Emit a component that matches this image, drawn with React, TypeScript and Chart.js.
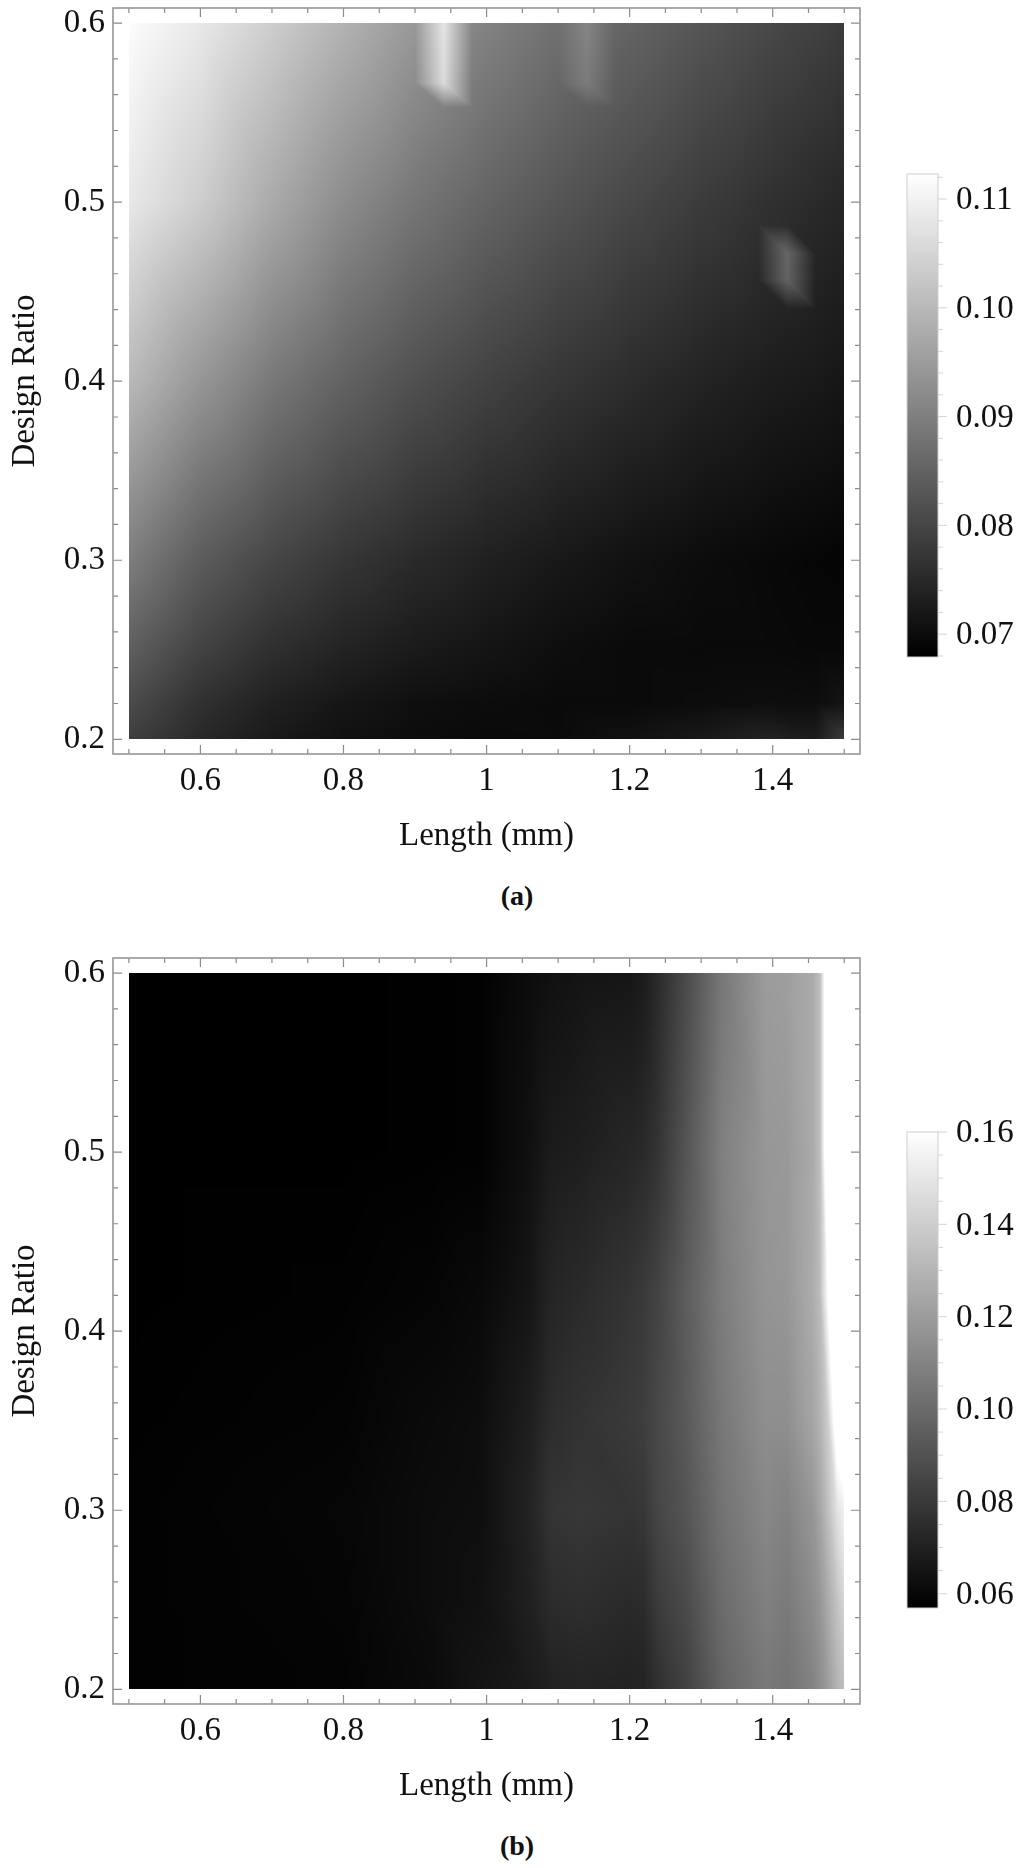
import React, { useEffect, useRef } from "react";
import { Chart, registerables } from "chart.js";

Chart.register(...registerables);

// ---------- axis ticks ----------
const xTicks = [0.6, 0.8, 1, 1.2, 1.4];
const yTicks = [0.2, 0.3, 0.4, 0.5, 0.6];
const xMinor = [0.5, 0.55, 0.65, 0.7, 0.75, 0.85, 0.9, 0.95, 1.05, 1.1, 1.15, 1.25, 1.3, 1.35, 1.45, 1.5];
const yMinor = [0.22, 0.24, 0.26, 0.28, 0.32, 0.34, 0.36, 0.38, 0.42, 0.44, 0.46, 0.48, 0.52, 0.54, 0.56, 0.58];

// ---------- panel (a) ----------
const aX = [0.5, 0.6, 0.7, 0.8, 0.9, 1.0, 1.1, 1.2, 1.3, 1.4, 1.46, 1.5];
const aY = [0.6, 0.5, 0.4, 0.3, 0.25, 0.22, 0.2];
const aRow060 = [0.1119, 0.1083, 0.1036, 0.0989, 0.0943, 0.0905, 0.0874, 0.0853, 0.0827, 0.0804, 0.0792, 0.0783];
const aRow050 = [0.1083, 0.1036, 0.0975, 0.0923, 0.0884, 0.0853, 0.0827, 0.0804, 0.0783, 0.0763, 0.0752, 0.0745];
const aRow040 = [0.1001, 0.094, 0.0888, 0.085, 0.0818, 0.0794, 0.0773, 0.0756, 0.074, 0.0728, 0.0723, 0.0717];
const aRow030 = [0.0897, 0.0839, 0.0801, 0.0773, 0.0752, 0.0735, 0.0721, 0.0709, 0.07, 0.0693, 0.0689, 0.0686];
const aRow025 = [0.0844, 0.0794, 0.0761, 0.074, 0.0724, 0.0714, 0.0703, 0.0696, 0.0695, 0.0695, 0.0693, 0.0693];
const aRow022 = [0.081, 0.0763, 0.0735, 0.0717, 0.0705, 0.07, 0.0696, 0.0696, 0.07, 0.0703, 0.0702, 0.0714];
const aRow020 = [0.0787, 0.0749, 0.0723, 0.0707, 0.07, 0.0696, 0.0697, 0.0708, 0.0722, 0.074, 0.0728, 0.0783];
const aGrid = [aRow060, aRow050, aRow040, aRow030, aRow025, aRow022, aRow020];

// local raised cells in panel (a), added on top of the grid above
const bump1X = [0.9, 0.94, 0.98];
const bump1Y = [0.6, 0.5665, 0.553];
const bump1Mid = [0.0148, 0.0148, 0];
const bump2X = [1.1, 1.14, 1.18];
const bump2Y = [0.6, 0.5665, 0.553];
const bump2Mid = [0.0045, 0.0045, 0];
const bump3X = [1.38, 1.42, 1.46];
const bump3Y = [0.4875, 0.4715, 0.4565, 0.4405];
const bump3Mid = [0, 0.0105, 0.0105, 0];

// ---------- panel (b) ----------
const bX = [0.5, 0.8, 0.92, 0.99, 1.06, 1.09, 1.13, 1.2, 1.22, 1.24, 1.28, 1.33, 1.39, 1.42, 1.456, 1.466, 1.477, 1.49, 1.5];
const bY = [0.6, 0.5, 0.42, 0.35, 0.3, 0.25, 0.2];
const bRow060 = [0.0569, 0.0569, 0.0573, 0.0577, 0.0618, 0.0634, 0.065, 0.0658, 0.0682, 0.0739, 0.0873, 0.1055, 0.1197, 0.1209, 0.1258, 0.1339, 0.1784, 0.1784, 0.1784];
const bRow050 = [0.0569, 0.0569, 0.0573, 0.0577, 0.0634, 0.0678, 0.0691, 0.0723, 0.0739, 0.078, 0.0913, 0.1087, 0.1177, 0.1185, 0.1258, 0.1339, 0.1784, 0.1784, 0.1784];
const bRow042 = [0.0569, 0.0577, 0.0589, 0.0605, 0.0655, 0.0718, 0.0739, 0.078, 0.0804, 0.0844, 0.0946, 0.1075, 0.1168, 0.1177, 0.1266, 0.133, 0.1602, 0.1784, 0.1784];
const bRow035 = [0.0573, 0.0585, 0.061, 0.0622, 0.0691, 0.0751, 0.0772, 0.0804, 0.082, 0.0861, 0.0934, 0.1055, 0.1144, 0.1144, 0.1237, 0.129, 0.1399, 0.1703, 0.1784];
const bRow030 = [0.0577, 0.0593, 0.0618, 0.0626, 0.0711, 0.078, 0.0792, 0.078, 0.0792, 0.0853, 0.0913, 0.1035, 0.1116, 0.1096, 0.1177, 0.1237, 0.1339, 0.148, 0.1541];
const bRow025 = [0.0577, 0.0589, 0.0618, 0.0634, 0.0699, 0.0747, 0.0755, 0.0739, 0.0747, 0.0812, 0.0873, 0.1006, 0.1087, 0.1063, 0.1136, 0.1177, 0.1258, 0.1359, 0.144];
const bRow020 = [0.0577, 0.0585, 0.061, 0.065, 0.0678, 0.0699, 0.0711, 0.0703, 0.0711, 0.0763, 0.0832, 0.0974, 0.1055, 0.1035, 0.1096, 0.1136, 0.1197, 0.129, 0.1339];
const bGrid = [bRow060, bRow050, bRow042, bRow035, bRow030, bRow025, bRow020];

// ---------- colour bars ----------
const aBarMajor = [0.07, 0.08, 0.09, 0.1, 0.11];
const aBarMinor = [0.068, 0.072, 0.074, 0.076, 0.078, 0.082, 0.084, 0.086, 0.088, 0.092, 0.094, 0.096, 0.098, 0.102, 0.104, 0.106, 0.108, 0.112];
const bBarMajor = [0.06, 0.08, 0.1, 0.12, 0.14, 0.16];
const bBarMinor = [0.065, 0.07, 0.075, 0.085, 0.09, 0.095, 0.105, 0.11, 0.115, 0.125, 0.13, 0.135, 0.145, 0.15, 0.155];
const aRange = [0.0679, 0.1123];
const bRange = [0.0569, 0.16];

const SERIF = "'Liberation Serif', 'Times New Roman', serif";
const AXIS_FONT = { family: SERIF, size: 33 };

function locate(arr: number[], v: number) {
  const desc = arr[0] > arr[arr.length - 1];
  for (let i = 0; i < arr.length - 1; i++) {
    const a = arr[i], b = arr[i + 1];
    if (desc ? v >= b : v <= b) return { i, t: Math.max(0, Math.min(1, (v - a) / (b - a))) };
  }
  return { i: arr.length - 2, t: 1 };
}

// triangulated cells, diagonal from top-left to bottom-right
function sample(xs: number[], ys: number[], z: number[][], x: number, y: number) {
  const { i, t: u } = locate(xs, x);
  const { i: j, t: v } = locate(ys, y);
  const tl = z[j][i], tr = z[j][i + 1], bl = z[j + 1][i], br = z[j + 1][i + 1];
  return u >= v ? tl + u * (tr - tl) + v * (br - tr) : tl + v * (bl - tl) + u * (br - bl);
}

type Patch = { xs: number[]; ys: number[]; mid: number[] };
const aPatches: Patch[] = [
  { xs: bump1X, ys: bump1Y, mid: bump1Mid },
  { xs: bump2X, ys: bump2Y, mid: bump2Mid },
  { xs: bump3X, ys: bump3Y, mid: bump3Mid },
];

function patchValue(p: Patch, x: number, y: number) {
  if (x < p.xs[0] || x > p.xs[2] || y > p.ys[0] || y < p.ys[p.ys.length - 1]) return 0;
  const z = p.mid.map((m) => [0, m, 0]);
  return sample(p.xs, p.ys, z, x, y);
}

function grayOf(v: number, range: number[]) {
  if (v > range[1]) return 255;
  return Math.max(0, Math.min(255, Math.round(((v - range[0]) / (range[1] - range[0])) * 255)));
}

function setGray(d: Uint8ClampedArray, k: number, g: number) {
  d[k] = g; d[k + 1] = g; d[k + 2] = g; d[k + 3] = 255;
}

function tickLines(ctx: any, color: string, width: number, lines: number[][]) {
  ctx.save();
  ctx.strokeStyle = color;
  ctx.lineWidth = width;
  ctx.beginPath();
  lines.forEach(([x1, y1, x2, y2]) => {
    ctx.moveTo(x1, y1);
    ctx.lineTo(x2, y2);
  });
  ctx.stroke();
  ctx.restore();
}

function fmtX(v: number) {
  return v === 1 ? "1" : v.toFixed(1);
}

function makeHeatChart(canvas: HTMLCanvasElement, xs: number[], ys: number[], grid: number[][], range: number[], patches: Patch[]) {
  const points: any[] = [];
  ys.forEach((y, j) => xs.forEach((x, i) => points.push({ x, y, v: grid[j][i] })));
  const heatPlugin = {
    id: "heat",
    beforeDatasetsDraw(chart: any) {
      const sx = chart.scales.x, sy = chart.scales.y, ctx = chart.ctx;
      const left = Math.round(sx.getPixelForValue(xs[0]));
      const right = Math.round(sx.getPixelForValue(xs[xs.length - 1]));
      const top = Math.round(sy.getPixelForValue(ys[0]));
      const bottom = Math.round(sy.getPixelForValue(ys[ys.length - 1]));
      const w = right - left, h = bottom - top;
      const off = document.createElement("canvas");
      off.width = w; off.height = h;
      const octx = off.getContext("2d")!;
      const img = octx.createImageData(w, h);
      for (let r = 0; r < h; r++) {
        const y = sy.getValueForPixel(top + r + 0.5);
        for (let c = 0; c < w; c++) {
          const x = sx.getValueForPixel(left + c + 0.5);
          let v = sample(xs, ys, grid, x, y);
          for (const p of patches) v += patchValue(p, x, y);
          setGray(img.data, (r * w + c) * 4, grayOf(v, range));
        }
      }
      octx.putImageData(img, 0, 0);
      ctx.drawImage(off, left, top);
    },
    afterDatasetsDraw(chart: any) {
      const sx = chart.scales.x, sy = chart.scales.y, ctx = chart.ctx;
      const a = chart.chartArea;
      const lines: number[][] = [];
      const vert = (v: number, len: number) => {
        const p = sx.getPixelForValue(v);
        lines.push([p, a.bottom, p, a.bottom - len], [p, a.top, p, a.top + len]);
      };
      const horz = (v: number, len: number) => {
        const p = sy.getPixelForValue(v);
        lines.push([a.left, p, a.left + len, p], [a.right, p, a.right - len, p]);
      };
      xTicks.forEach((v) => vert(v, 9));
      xMinor.forEach((v) => vert(v, 5));
      yTicks.forEach((v) => horz(v, 9));
      yMinor.forEach((v) => horz(v, 5));
      tickLines(ctx, "#8a8a8a", 1.2, lines);
      ctx.save();
      ctx.strokeStyle = "#969696";
      ctx.lineWidth = 1.6;
      ctx.strokeRect(a.left, a.top, a.right - a.left, a.bottom - a.top);
      ctx.restore();
    },
  };
  return new Chart(canvas, {
    type: "scatter",
    data: { datasets: [{ data: points, pointRadius: 0, showLine: false }] },
    options: {
      animation: false,
      responsive: false,
      layout: { padding: { top: 8, right: 20, left: 0, bottom: 0 } },
      plugins: { legend: { display: false }, tooltip: { enabled: false } },
      scales: {
        x: {
          type: "linear",
          bounds: "data",
          min: 0.4778,
          max: 1.522,
          grid: { display: false, drawTicks: false },
          border: { display: false },
          title: { display: true, text: "Length (mm)", color: "#111", font: AXIS_FONT, padding: { top: 12, bottom: 4 } },
          ticks: { color: "#111", font: AXIS_FONT, padding: 8, autoSkip: false, maxRotation: 0, minRotation: 0, callback: (v: any) => fmtX(Number(v)) },
          afterBuildTicks: (s: any) => { s.ticks = xTicks.map((value) => ({ value })); },
          afterFit: (s: any) => { s.height = 106; s.paddingLeft = 0; s.paddingRight = 0; },
        },
        y: {
          type: "linear",
          bounds: "data",
          min: 0.1918,
          max: 0.6084,
          grid: { display: false, drawTicks: false },
          border: { display: false },
          title: { display: true, text: "Design Ratio", color: "#111", font: AXIS_FONT, padding: { top: 6, bottom: 0 } },
          ticks: { color: "#111", font: AXIS_FONT, padding: 8, autoSkip: false, labelOffset: 0.5, callback: (v: any) => Number(v).toFixed(1) },
          afterBuildTicks: (s: any) => { s.ticks = yTicks.map((value) => ({ value })); },
          afterFit: (s: any) => { s.width = 113; s.paddingTop = 0; s.paddingBottom = 0; },
        },
      },
    } as any,
    plugins: [heatPlugin as any],
  });
}

function makeBarChart(canvas: HTMLCanvasElement, range: number[], major: number[], minor: number[], padTop: number, padBottom: number) {
  const barPlugin = {
    id: "bar",
    beforeDatasetsDraw(chart: any) {
      const sy = chart.scales.y, a = chart.chartArea, ctx = chart.ctx;
      const left = Math.round(a.left), top = Math.round(a.top);
      const w = Math.round(a.right - a.left), h = Math.round(a.bottom - a.top);
      const off = document.createElement("canvas");
      off.width = w; off.height = h;
      const octx = off.getContext("2d")!;
      const img = octx.createImageData(w, h);
      for (let r = 0; r < h; r++) {
        const g = grayOf(sy.getValueForPixel(top + r + 0.5), range);
        for (let c = 0; c < w; c++) setGray(img.data, (r * w + c) * 4, g);
      }
      octx.putImageData(img, 0, 0);
      ctx.drawImage(off, left, top);
      const lines: number[][] = [];
      major.forEach((v) => { const p = sy.getPixelForValue(v); lines.push([a.right, p, a.right + 9, p]); });
      minor.forEach((v) => { const p = sy.getPixelForValue(v); lines.push([a.right, p, a.right + 5, p]); });
      tickLines(ctx, "#d4d4d4", 1, lines);
      ctx.save();
      ctx.strokeStyle = "#cfcfcf";
      ctx.lineWidth = 1;
      ctx.strokeRect(a.left, a.top, a.right - a.left, a.bottom - a.top);
      ctx.restore();
    },
  };
  return new Chart(canvas, {
    type: "scatter",
    data: { datasets: [{ data: [] }] },
    options: {
      animation: false,
      responsive: false,
      layout: { padding: { top: padTop, bottom: padBottom, left: 7, right: 0 } },
      plugins: { legend: { display: false }, tooltip: { enabled: false } },
      scales: {
        x: { type: "linear", display: false, min: 0, max: 1 },
        y: {
          type: "linear",
          position: "right",
          bounds: "data",
          min: range[0],
          max: range[1],
          grid: { display: false, drawTicks: false },
          border: { display: false },
          ticks: { color: "#111", font: AXIS_FONT, padding: 18, autoSkip: false, labelOffset: 1.5, callback: (v: any) => Number(v).toFixed(2) },
          afterBuildTicks: (s: any) => { s.ticks = major.map((value) => ({ value })); },
          afterFit: (s: any) => { s.width = 86; s.paddingTop = 0; s.paddingBottom = 0; },
        },
      },
    } as any,
    plugins: [barPlugin as any],
  });
}

const caption: React.CSSProperties = {
  position: "absolute",
  left: 417,
  width: 200,
  textAlign: "center",
  font: `bold 28px ${SERIF}`,
  color: "#111",
  lineHeight: "32px",
};
const layer = (top: number, left = 0): React.CSSProperties => ({ position: "absolute", top, left, display: "block" });

export default function App() {
  const a = useRef<HTMLCanvasElement>(null);
  const aBar = useRef<HTMLCanvasElement>(null);
  const b = useRef<HTMLCanvasElement>(null);
  const bBar = useRef<HTMLCanvasElement>(null);

  useEffect(() => {
    const charts = [
      makeHeatChart(a.current!, aX, aY, aGrid, aRange, aPatches),
      makeBarChart(aBar.current!, aRange, aBarMajor, aBarMinor, 174, 860 - 657),
      makeHeatChart(b.current!, bX, bY, bGrid, bRange, []),
      makeBarChart(bBar.current!, bRange, bBarMajor, bBarMinor, 1132 - 950, 860 - (1608 - 950)),
    ];
    return () => charts.forEach((c) => c.destroy());
  }, []);

  return (
    <div style={{ position: "absolute", left: 0, top: 0, width: 1024, height: 1868, overflow: "hidden", background: "#fff" }}>
      <canvas ref={a} width={880} height={860} style={layer(0)} />
      <canvas ref={aBar} width={124} height={860} style={layer(0, 900)} />
      <div style={{ ...caption, top: 880 }}>(a)</div>
      <canvas ref={b} width={880} height={860} style={layer(950)} />
      <canvas ref={bBar} width={124} height={860} style={layer(950, 900)} />
      <div style={{ ...caption, top: 1830 }}>(b)</div>
    </div>
  );
}
